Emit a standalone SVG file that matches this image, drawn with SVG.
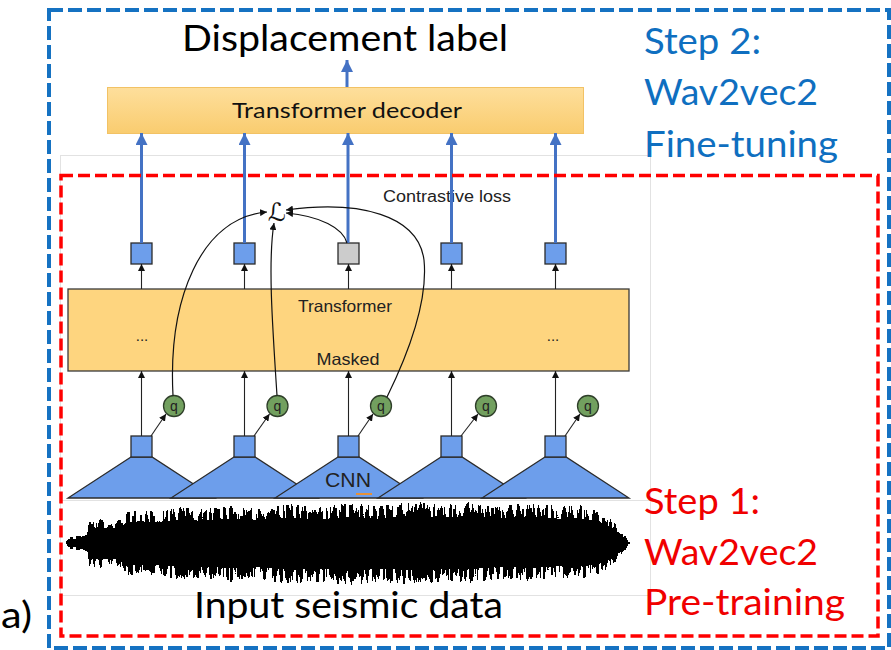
<svg xmlns="http://www.w3.org/2000/svg" width="891" height="650" viewBox="0 0 891 650">
<defs>
<style>
.cal{font-family:Lato,"Open Sans","Liberation Sans",sans-serif;}
.ar{font-family:"Liberation Sans",Arial,sans-serif;fill:#222;}
.blue-t{fill:#0F6FC0;}
.red-t{fill:#F00000;}
.sq{fill:#6D9EEB;stroke:#2b2b2b;stroke-width:1.3;}
.cnn{fill:#6D9EEB;stroke:#2b2b2b;stroke-width:1.3;stroke-linejoin:miter;}
.qc{fill:#72A05F;stroke:#2f3f2a;stroke-width:1.3;}
.bl{stroke:#4472C4;stroke-width:3;fill:none;marker-end:url(#bh);}
.tk{stroke:#222;stroke-width:1.1;fill:none;marker-end:url(#kh);}
.tkc{stroke:#111;stroke-width:1.2;fill:none;marker-end:url(#kh);}
</style>
<marker id="bh" markerUnits="userSpaceOnUse" markerWidth="12" markerHeight="12" viewBox="0 0 10 10" refX="10" refY="5" orient="auto"><path d="M0,0 L10,5 L0,10 z" fill="#4472C4"/></marker>
<marker id="kh" markerUnits="userSpaceOnUse" markerWidth="7" markerHeight="7" viewBox="0 0 10 10" refX="10" refY="5" orient="auto"><path d="M0,0 L10,5 L0,10 z" fill="#111"/></marker>
<linearGradient id="dec" x1="0" y1="0" x2="0" y2="1"><stop offset="0" stop-color="#FEDF9C"/><stop offset="1" stop-color="#F9CC6F"/></linearGradient>
<polygon id="env" fill="#000" fill-opacity="0.12" points="66,543 67,538 70,537 80,536 87,535 89,521 100,519 110,521 122,519 126,512 140,510 160,512 180,507 200,509 230,506 260,509 290,504 320,507 350,503 380,506 410,501 440,504 470,502 500,505 530,503 560,506 580,505 600,511 612,520 622,531 630,543 622,555 612,566 600,574 580,579 560,578 530,581 500,579 470,583 440,582 410,585 380,582 350,586 320,582 290,584 260,580 230,582 200,578 180,580 160,576 140,577 126,575 122,568 110,566 100,568 89,566 87,551 80,550 70,549 67,548"/>
<filter id="wf" filterUnits="userSpaceOnUse" x="55" y="495" width="590" height="100" color-interpolation-filters="sRGB">
<feTurbulence type="fractalNoise" baseFrequency="0.3 0.012" numOctaves="3" seed="5" result="n"/>
<feColorMatrix in="n" type="matrix" values="0 0 0 0 0  0 0 0 0 0  0 0 0 0 0  4.2 0 0 0 -1.6" result="na"/>
<feComposite in="SourceAlpha" in2="na" operator="arithmetic" k1="0" k2="1" k3="0.5" k4="0" result="sum"/>
<feComponentTransfer in="sum" result="th"><feFuncA type="discrete" tableValues="0 0 0 0 0 0 1 1 1 1"/></feComponentTransfer>
<feGaussianBlur in="th" stdDeviation="0.35"/>
</filter>
</defs>
<rect width="891" height="650" fill="#fff"/>

<g id="image-frame" fill="none" stroke="#E2E2E2" stroke-width="1">
<rect x="60.5" y="155.5" width="590" height="440"/>
<line x1="60" y1="500.5" x2="650" y2="500.5"/>
</g>

<g id="waveform" filter="url(#wf)">
<use href="#env"/>
<use href="#env" transform="matrix(1 0 0 0.95 0 27.15)"/>
<use href="#env" transform="matrix(1 0 0 0.9 0 54.3)"/>
<use href="#env" transform="matrix(1 0 0 0.85 0 81.45)"/>
<use href="#env" transform="matrix(1 0 0 0.8 0 108.6)"/>
<use href="#env" transform="matrix(1 0 0 0.75 0 135.75)"/>
<use href="#env" transform="matrix(1 0 0 0.7 0 162.9)"/>
<use href="#env" transform="matrix(1 0 0 0.65 0 190.05)"/>
<use href="#env" transform="matrix(1 0 0 0.6 0 217.2)"/>
<use href="#env" transform="matrix(1 0 0 0.5 0 271.5)"/>
<use href="#env" transform="matrix(1 0 0 0.4 0 325.8)"/>
</g>

<g id="transformer-decoder">
<rect x="107.5" y="87.5" width="476" height="46" fill="url(#dec)" stroke="#F2C265" stroke-width="1"/>
<text class="cal" x="232" y="118" font-size="22" textLength="230" lengthAdjust="spacingAndGlyphs" fill="#111">Transformer decoder</text>
</g>

<g id="displacement-label">
<text class="cal" x="182" y="51" font-size="37" textLength="326" lengthAdjust="spacingAndGlyphs" fill="#000">Displacement label</text>
</g>

<g id="transformer">
<rect x="68" y="289" width="561" height="82" fill="#FED57F" stroke="#3a3a3a" stroke-width="1.3"/>
<text class="ar" x="345" y="312" font-size="16.5" text-anchor="middle" textLength="94" lengthAdjust="spacingAndGlyphs">Transformer</text>
<text class="ar" x="348" y="365" font-size="16.5" text-anchor="middle" textLength="63" lengthAdjust="spacingAndGlyphs">Masked</text>
<text class="ar" x="142" y="341" font-size="15" text-anchor="middle">...</text>
<text class="ar" x="553" y="341" font-size="15" text-anchor="middle">...</text>
</g>

<g id="context-vectors">
<rect class="sq" x="131" y="243" width="21" height="21"/>
<rect class="sq" x="234" y="243" width="21" height="21"/>
<rect x="338" y="243" width="21" height="21" fill="#CCCCCC" stroke="#2b2b2b" stroke-width="1.3"/>
<rect class="sq" x="441" y="243" width="21" height="21"/>
<rect class="sq" x="545" y="243" width="21" height="21"/>
</g>

<g id="contrastive-loss">
<text x="277" y="221" font-size="25" text-anchor="middle" font-family="'DejaVu Serif','DejaVu Sans',serif" fill="#111">ℒ</text>
<text class="ar" x="383" y="202" font-size="16" textLength="128" lengthAdjust="spacingAndGlyphs">Contrastive loss</text>
</g>

<g id="cnn-encoder">
<path class="cnn" d="M131,457 L68,498 L215,498 L152,457 Z"/>
<rect class="sq" x="131" y="436" width="21" height="21"/>
<path class="cnn" d="M234,457 L171,498 L318,498 L255,457 Z"/>
<rect class="sq" x="234" y="436" width="21" height="21"/>
<path class="cnn" d="M338,457 L275,498 L422,498 L359,457 Z"/>
<rect class="sq" x="338" y="436" width="21" height="21"/>
<path class="cnn" d="M441,457 L378,498 L525,498 L462,457 Z"/>
<rect class="sq" x="441" y="436" width="21" height="21"/>
<path class="cnn" d="M545,457 L482,498 L629,498 L566,457 Z"/>
<rect class="sq" x="545" y="436" width="21" height="21"/>
<text class="ar" x="325" y="487" font-size="20" textLength="46" lengthAdjust="spacingAndGlyphs" fill="#111">CNN</text>
<line x1="356" y1="494" x2="372" y2="494" stroke="#E69138" stroke-width="2"/>
</g>

<g id="quantizers">
<circle class="qc" cx="174" cy="406" r="10.5"/>
<circle class="qc" cx="277.5" cy="406" r="10.5"/>
<circle class="qc" cx="381" cy="406" r="10.5"/>
<circle class="qc" cx="486" cy="406" r="10.5"/>
<circle class="qc" cx="588" cy="406" r="10.5"/>
<g class="ar" font-size="14" text-anchor="middle">
<text x="174" y="410.5">q</text>
<text x="277.5" y="410.5">q</text>
<text x="381" y="410.5">q</text>
<text x="486" y="410.5">q</text>
<text x="588" y="410.5">q</text>
</g>
</g>

<g id="connectors">
<line class="bl" x1="347" y1="87" x2="347" y2="60"/>
<line class="bl" x1="141.5" y1="243" x2="141.5" y2="133"/>
<line class="bl" x1="244.5" y1="243" x2="244.5" y2="133"/>
<line class="bl" x1="348" y1="243" x2="348" y2="133"/>
<line class="bl" x1="451.5" y1="243" x2="451.5" y2="133"/>
<line class="bl" x1="555.5" y1="243" x2="555.5" y2="133"/>

<line class="tk" x1="141.5" y1="289" x2="141.5" y2="264"/>
<line class="tk" x1="244.5" y1="289" x2="244.5" y2="264"/>
<line class="tk" x1="348.5" y1="289" x2="348.5" y2="264"/>
<line class="tk" x1="451.5" y1="289" x2="451.5" y2="264"/>
<line class="tk" x1="555.5" y1="289" x2="555.5" y2="264"/>

<line class="tk" x1="141.5" y1="436" x2="141.5" y2="371"/>
<line class="tk" x1="244.5" y1="436" x2="244.5" y2="371"/>
<line class="tk" x1="348.5" y1="436" x2="348.5" y2="371"/>
<line class="tk" x1="451.5" y1="436" x2="451.5" y2="371"/>
<line class="tk" x1="555.5" y1="436" x2="555.5" y2="371"/>

<line class="tk" x1="151" y1="436" x2="166" y2="414"/>
<line class="tk" x1="254" y1="436" x2="269.5" y2="414"/>
<line class="tk" x1="358" y1="436" x2="373" y2="414"/>
<line class="tk" x1="461" y1="436" x2="478" y2="414"/>
<line class="tk" x1="565" y1="436" x2="580" y2="414"/>

<path class="tkc" d="M173,395.5 C168,300 200,218 267,212"/>
<path class="tkc" d="M277,395.5 C272,320 268,260 274,223"/>
<path class="tkc" d="M387,397 C410,350 428,300 424,260 C418,215 360,200 286,210"/>
<path class="tkc" d="M347,243 C343,228 320,216 286,213"/>
</g>

<g id="step1-box">
<rect x="61" y="175.5" width="817" height="460.5" fill="none" stroke="#FF0000" stroke-width="3.5" stroke-dasharray="12 5"/>
<text class="cal red-t" x="644" y="514" font-size="37" textLength="116" lengthAdjust="spacingAndGlyphs">Step 1:</text>
<text class="cal red-t" x="644" y="565" font-size="37" textLength="174" lengthAdjust="spacingAndGlyphs">Wav2vec2</text>
<text class="cal red-t" x="644" y="615" font-size="37" textLength="201" lengthAdjust="spacingAndGlyphs">Pre-training</text>
</g>

<g id="step2-box">
<rect x="49" y="10" width="840" height="638" fill="none" stroke="#1572C2" stroke-width="4" stroke-dasharray="14 5"/>
<text class="cal blue-t" x="644" y="54" font-size="37" textLength="117" lengthAdjust="spacingAndGlyphs">Step 2:</text>
<text class="cal blue-t" x="644" y="105" font-size="37" textLength="174" lengthAdjust="spacingAndGlyphs">Wav2vec2</text>
<text class="cal blue-t" x="644" y="157" font-size="37" textLength="194" lengthAdjust="spacingAndGlyphs">Fine-tuning</text>
</g>

<g id="input-label">
<text class="cal" x="194" y="618" font-size="37" textLength="309" lengthAdjust="spacingAndGlyphs" fill="#000">Input seismic data</text>
</g>

<g id="panel-label">
<text class="cal" x="1" y="628" font-size="37" textLength="31" lengthAdjust="spacingAndGlyphs" fill="#000">a)</text>
</g>
</svg>
